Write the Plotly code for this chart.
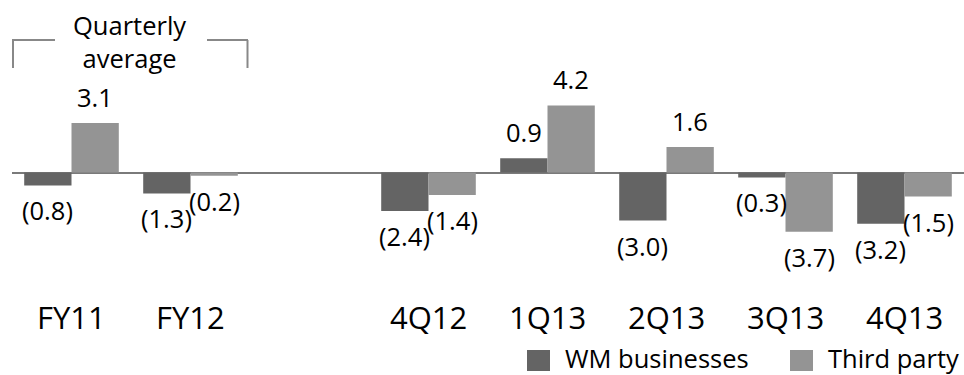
import plotly.graph_objects as go

# ---- data ----
categories = ["FY11", "FY12", "", "4Q12", "1Q13", "2Q13", "3Q13", "4Q13"]
wm_businesses = [-0.8, -1.3, None, -2.4, 0.9, -3.0, -0.3, -3.2]
third_party = [3.1, -0.2, None, -1.4, 4.2, 1.6, -3.7, -1.5]
series_names = ["WM businesses", "Third party"]
bracket_label = "Quarterly<br>average"

# ---- style ----
FONT = "Open Sans"
C_WM = "#646464"
C_TP = "#949494"
W, H = 964, 375
BARGAP = 0.205
LABEL_SIZE = 25.5
CAT_SIZE = 31
LEG_SIZE = 25.5

xpos = list(range(len(categories)))


def fmt(v):
    return f"({abs(v):.1f})" if v < 0 else f"{v:.1f}"


fig = go.Figure()
for name, vals, col in [(series_names[0], wm_businesses, C_WM),
                        (series_names[1], third_party, C_TP)]:
    fig.add_trace(go.Bar(
        x=xpos, y=vals, name=name, marker=dict(color=col, line=dict(width=0)),
        showlegend=False, hoverinfo="skip"))

half = (1 - BARGAP) / 4  # centre offset of each bar within group
ann = []
for i, cat in enumerate(categories):
    for vals, sgn in [(wm_businesses, -1), (third_party, 1)]:
        v = vals[i]
        if v is None:
            continue
        ann.append(dict(x=xpos[i] + sgn * half, y=v, text=fmt(v), showarrow=False,
                        yshift=26 if v >= 0 else -25,
                        font=dict(size=LABEL_SIZE, color="#000", family=FONT)))
    if cat:
        ann.append(dict(x=xpos[i], y=-9.0, text=cat, showarrow=False,
                        font=dict(size=CAT_SIZE, color="#000", family=FONT)))

# bracket text
ann.append(dict(x=0.49, y=8.2, text=bracket_label, showarrow=False,
                font=dict(size=LABEL_SIZE, color="#000", family=FONT)))


def px(xp):
    return (xp - 12) / 952


def py(yp):
    return 1 - yp / H


# legend (manual)
shapes = []
for (x0, lbl, col) in [(527, series_names[0], C_WM), (790, series_names[1], C_TP)]:
    shapes.append(dict(type="rect", xref="paper", yref="paper",
                       x0=px(x0), x1=px(x0 + 23), y0=py(371), y1=py(350),
                       fillcolor=col, line=dict(width=0)))
    ann.append(dict(xref="paper", yref="paper", x=px(x0 + 36), y=py(358),
                    xanchor="left", yanchor="middle", text=lbl, showarrow=False,
                    font=dict(size=LEG_SIZE, color="#000", family=FONT)))

# bracket lines
bc = "#888888"
for (xa, ya, xb, yb) in [(13, 40, 13, 68), (12, 40, 55, 40), (207, 40, 248, 40),
                         (247.5, 40, 247.5, 68)]:
    shapes.append(dict(type="line", xref="paper", yref="paper",
                       x0=px(xa), y0=py(ya), x1=px(xb), y1=py(yb),
                       line=dict(color=bc, width=2)))

fig.update_layout(
    width=W, height=H, margin=dict(l=12, r=0, t=0, b=0),
    paper_bgcolor="white", plot_bgcolor="white",
    barmode="group", bargap=BARGAP, bargroupgap=0,
    annotations=ann, shapes=shapes,
    xaxis=dict(range=[-0.5, 7.5], showgrid=False, zeroline=False,
               showticklabels=False, showline=False, ticks=""),
    yaxis=dict(range=[-12.65, 10.79], showgrid=False, zeroline=True,
               zerolinecolor="#7a7a7a", zerolinewidth=2,
               showticklabels=False, showline=False, ticks=""),
    font=dict(family=FONT),
)

fig.write_html("out.html")
